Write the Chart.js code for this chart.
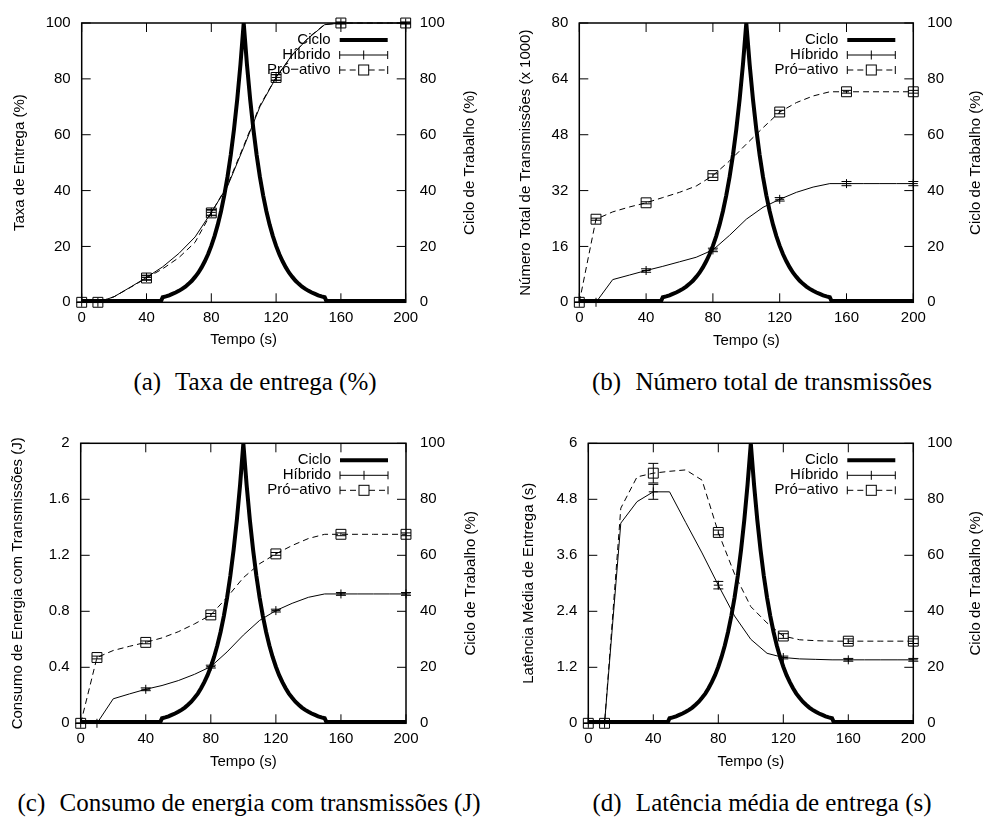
<!DOCTYPE html>
<html>
<head>
<meta charset="utf-8">
<script src="https://cdn.jsdelivr.net/npm/chart.js@4.4.1/dist/chart.umd.min.js"></script>
<style>
  body { margin: 0; background: #fff; width: 984px; height: 817px; position: relative; overflow: hidden; }
  canvas { position: absolute; }
  .legenda { position: absolute; width: 500px; font-family: 'Liberation Serif', 'Times New Roman', serif;
             font-size: 25px; line-height: 30px; text-align: center; color: #000; white-space: nowrap; }
  .legenda span { margin-right: 8px; }
</style>
</head>
<body>
<canvas id="grafA" width="490" height="360" style="left:0px;top:0px"></canvas>
<canvas id="grafB" width="494" height="360" style="left:490px;top:0px"></canvas>
<canvas id="grafC" width="490" height="360" style="left:0px;top:420px"></canvas>
<canvas id="grafD" width="494" height="360" style="left:490px;top:420px"></canvas>
<div class="legenda" style="left:5px;top:367px"><span>(a)</span> Taxa de entrega (%)</div>
<div class="legenda" style="left:512px;top:367px"><span>(b)</span> Número total de transmissões</div>
<div class="legenda" style="left:-1px;top:788px"><span>(c)</span> Consumo de energia com transmissões (J)</div>
<div class="legenda" style="left:512px;top:788px"><span>(d)</span> Latência média de entrega (s)</div>
<script>
// tempo (s) de cada ponto das curvas e pontos com marcador
const tempo = [0, 10, 20, 30, 40, 50, 60, 70, 80, 90, 100, 110, 120, 130, 140, 150, 160, 170, 180, 190, 200];
const marcas = [0, 10, 40, 80, 120, 160, 200];

// ciclo de trabalho (%) - eixo da direita
const cicloTempo = [0, 49, 50, 52, 54, 56, 58, 60, 62, 64, 66, 68, 70, 72, 74, 76, 78, 80, 82, 84, 86, 88, 90, 92, 94, 96, 98, 100,
  102, 104, 106, 108, 110, 112, 114, 116, 118, 120, 122, 124, 126, 128, 130, 132, 134, 136, 138, 140, 142, 144, 146, 148, 150, 151, 200];
const cicloValor = [0.5, 0.5, 1.8, 2.1, 2.5, 3.0, 3.5, 4.1, 4.8, 5.6, 6.6, 7.7, 9.1, 10.6, 12.5, 14.7, 17.2, 20.2, 23.7, 27.8, 32.6, 38.3, 44.9, 52.7, 61.9, 72.6, 85.2, 100,
  85.2, 72.6, 61.9, 52.7, 44.9, 38.3, 32.6, 27.8, 23.7, 20.2, 17.2, 14.7, 12.5, 10.6, 9.1, 7.7, 6.6, 5.6, 4.8, 4.1, 3.5, 3.0, 2.5, 2.1, 1.8, 0.5, 0.5];

// (a) taxa de entrega (%)
const taxaHibrido  = [0, 0, 2, 5.4, 8.9, 12.7, 17.5, 23.4, 32.2, 41.5, 55.5, 70, 80.5, 88.7, 94.6, 99.4, 100, 100, 100, 100, 100];
const taxaProativo = [0, 0, 2, 5.3, 8.7, 12, 16, 21.5, 32, 42, 56, 70.5, 80.5, 88.5, 94.8, 99.5, 100, 100, 100, 100, 100];
const taxaErroHibrido  = [0, 0, 0.8, 1, 1, 0.3, 0.3];
const taxaErroProativo = [0, 0, 0.8, 1, 1, 0.3, 0.3];

// (b) numero total de transmissoes (x 1000)
const transHibrido  = [0, 0, 6.5, 7.8, 9.1, 10.3, 11.6, 12.9, 15, 19.2, 23.8, 27.2, 29.5, 31.5, 33, 34, 34, 34, 34, 34, 34];
const transProativo = [0, 23.8, 25.9, 27.3, 28.5, 30, 31.5, 33.3, 36.3, 40.5, 45.3, 50, 54.5, 57.2, 59.1, 60.3, 60.3, 60.3, 60.3, 60.3, 60.3];
const transErroHibrido  = [0, 0, 0.5, 0.5, 0.5, 0.6, 0.6];
const transErroProativo = [0, 0.3, 0.3, 0.5, 0.5, 0.4, 0.4];

// (c) consumo de energia com transmissoes (J)
const energiaHibrido  = [0, 0, 0.175, 0.21, 0.243, 0.27, 0.305, 0.35, 0.405, 0.51, 0.63, 0.735, 0.805, 0.857, 0.9, 0.924, 0.924, 0.924, 0.924, 0.924, 0.924];
const energiaProativo = [0, 0.47, 0.52, 0.55, 0.578, 0.61, 0.654, 0.71, 0.774, 0.9, 1.04, 1.14, 1.21, 1.27, 1.32, 1.35, 1.35, 1.35, 1.35, 1.35, 1.35];
const energiaErroHibrido  = [0, 0, 0.01, 0.01, 0.01, 0.01, 0.01];
const energiaErroProativo = [0, 0.01, 0.01, 0.01, 0.01, 0.01, 0.01];

// (d) latencia media de entrega (s)
const latHibrido  = [0, 0, 4.29, 4.75, 4.96, 4.96, 4.3, 3.65, 2.96, 2.3, 1.8, 1.5, 1.41, 1.38, 1.37, 1.36, 1.36, 1.36, 1.36, 1.36, 1.36];
const latProativo = [0, 0, 4.61, 5.28, 5.36, 5.4, 5.43, 5.21, 4.09, 3.2, 2.5, 2.15, 1.87, 1.79, 1.77, 1.76, 1.76, 1.76, 1.76, 1.76, 1.76];
const latErroHibrido  = [0, 0, 0.16, 0.08, 0.03, 0.03, 0.03];
const latErroProativo = [0, 0, 0.21, 0.05, 0.05, 0.05, 0.05];

const fonte = "'Liberation Sans', Arial, Helvetica, sans-serif";
Chart.defaults.font.family = fonte;
Chart.defaults.font.size = 15;
Chart.defaults.color = '#000';

function pontos(valores) {
    return tempo.map((t, i) => ({ x: t, y: valores[i] }));
}
function raioMarca(r) {
    return ctx => marcas.includes(tempo[ctx.dataIndex]) ? r : 0;
}

// moldura estilo gnuplot: caixa, marcas para dentro, barras de erro, legenda e titulo da direita
const moldura = {
    id: 'moldura',
    beforeDatasetsDraw(chart) {
        const { ctx, chartArea: a, scales } = chart;
        ctx.save();
        ctx.strokeStyle = '#000';
        ctx.lineWidth = 1.5;
        ctx.strokeRect(a.left, a.top, a.right - a.left, a.bottom - a.top);
        ctx.lineWidth = 1;
        ctx.beginPath();
        scales.x.ticks.forEach(t => {
            const px = scales.x.getPixelForValue(t.value);
            ctx.moveTo(px, a.bottom); ctx.lineTo(px, a.bottom - 9);
            ctx.moveTo(px, a.top); ctx.lineTo(px, a.top + 9);
        });
        scales.y.ticks.forEach(t => {
            const py = scales.y.getPixelForValue(t.value);
            ctx.moveTo(a.left, py); ctx.lineTo(a.left + 9, py);
        });
        scales.y2.ticks.forEach(t => {
            const py = scales.y2.getPixelForValue(t.value);
            ctx.moveTo(a.right, py); ctx.lineTo(a.right - 9, py);
        });
        ctx.stroke();
        ctx.restore();
    },
    afterDatasetsDraw(chart, args, opts) {
        const { ctx, chartArea: a, scales } = chart;
        const ds = chart.data.datasets;
        ctx.save();
        ctx.strokeStyle = '#000';
        ctx.fillStyle = '#000';
        ctx.lineWidth = 1;

        // barras de erro
        ds.forEach(d => {
            if (!d.erro) return;
            ctx.beginPath();
            marcas.forEach((t, k) => {
                const v = d.data[tempo.indexOf(t)].y;
                const px = scales.x.getPixelForValue(t);
                const p1 = scales.y.getPixelForValue(v - d.erro[k]);
                const p2 = scales.y.getPixelForValue(v + d.erro[k]);
                ctx.moveTo(px, p1); ctx.lineTo(px, p2);
                ctx.moveTo(px - 5, p1); ctx.lineTo(px + 5, p1);
                ctx.moveTo(px - 5, p2); ctx.lineTo(px + 5, p2);
            });
            ctx.stroke();
        });

        // legenda
        const xt = a.right - 75, l1 = a.right - 66, l2 = a.right - 18, m = (l1 + l2) / 2;
        const linhas = [a.top + 17, a.top + 32, a.top + 47];
        ctx.font = '15px ' + fonte;
        ctx.textAlign = 'right';
        ctx.textBaseline = 'middle';
        ds.forEach((d, i) => ctx.fillText(d.label, xt, linhas[i]));

        ctx.lineWidth = 4;
        ctx.beginPath();
        ctx.moveTo(l1, linhas[0]); ctx.lineTo(l2, linhas[0]);
        ctx.stroke();

        ctx.lineWidth = 1;
        let y = linhas[1];
        ctx.beginPath();
        ctx.moveTo(l1, y); ctx.lineTo(l2, y);
        ctx.moveTo(l1, y - 4); ctx.lineTo(l1, y + 4);
        ctx.moveTo(l2, y - 4); ctx.lineTo(l2, y + 4);
        ctx.moveTo(m, y - 4.5); ctx.lineTo(m, y + 4.5);
        ctx.stroke();

        y = linhas[2];
        ctx.beginPath();
        ctx.moveTo(l1, y - 4); ctx.lineTo(l1, y + 4);
        ctx.moveTo(l2, y - 4); ctx.lineTo(l2, y + 4);
        ctx.stroke();
        ctx.setLineDash([6, 4]);
        ctx.beginPath();
        ctx.moveTo(l1, y); ctx.lineTo(m - 5, y);
        ctx.moveTo(m + 5, y); ctx.lineTo(l2, y);
        ctx.stroke();
        ctx.setLineDash([]);
        ctx.strokeRect(m - 5, y - 5, 10, 10);

        // titulo do eixo da direita, lido de baixo para cima
        ctx.translate(opts.xTitulo, (a.top + a.bottom) / 2);
        ctx.rotate(-Math.PI / 2);
        ctx.textAlign = 'center';
        ctx.fillText('Ciclo de Trabalho (%)', 0, 0);
        ctx.restore();
    }
};

function rotulo(v) {
    return String(Math.round(v * 100) / 100);
}

function criarGrafico(id, cfg) {
    return new Chart(document.getElementById(id), {
        type: 'line',
        data: {
            datasets: [
                {
                    label: 'Ciclo',
                    data: cicloTempo.map((t, i) => ({ x: t, y: cicloValor[i] })),
                    yAxisID: 'y2', borderColor: '#000', borderWidth: 4,
                    pointRadius: 0, borderJoinStyle: 'miter'
                },
                {
                    label: 'Híbrido',
                    data: pontos(cfg.hibrido), erro: cfg.erroHibrido,
                    yAxisID: 'y', borderColor: '#000', borderWidth: 1,
                    pointStyle: 'cross', pointRadius: raioMarca(4.5),
                    pointBorderColor: '#000', pointBorderWidth: 1, clip: false
                },
                {
                    label: 'Pró−ativo',
                    data: pontos(cfg.proativo), erro: cfg.erroProativo,
                    yAxisID: 'y', borderColor: '#000', borderWidth: 1, borderDash: [6, 4],
                    pointStyle: 'rect', pointRadius: raioMarca(7),
                    pointBackgroundColor: 'rgba(0,0,0,0)', pointBorderColor: '#000',
                    pointBorderWidth: 1, clip: false
                }
            ]
        },
        options: {
            responsive: false,
            animation: false,
            events: [],
            layout: { padding: { top: cfg.topo, left: 0, right: 0, bottom: 0 } },
            plugins: {
                legend: { display: false },
                tooltip: { enabled: false },
                moldura: { xTitulo: cfg.xTitulo }
            },
            scales: {
                x: {
                    type: 'linear', min: 0, max: 200,
                    ticks: { stepSize: 40, padding: 7, maxRotation: 0, callback: rotulo },
                    grid: { display: false, drawTicks: false },
                    border: { display: false },
                    title: { display: true, text: 'Tempo (s)', padding: { top: 0, bottom: cfg.padX } },
                    afterFit: s => { s.height = cfg.altX; }
                },
                y: {
                    position: 'left', min: 0, max: cfg.maxY,
                    ticks: { stepSize: cfg.passoY, padding: 11, callback: rotulo },
                    grid: { display: false, drawTicks: false },
                    border: { display: false },
                    title: { display: true, text: cfg.tituloY, padding: { top: cfg.padY, bottom: 0 } },
                    afterFit: s => { s.width = cfg.largEsq; }
                },
                y2: {
                    position: 'right', min: 0, max: 100,
                    ticks: { stepSize: 20, padding: 14, callback: rotulo },
                    grid: { display: false, drawTicks: false },
                    border: { display: false },
                    afterFit: s => { s.width = cfg.largDir; }
                }
            }
        },
        plugins: [moldura]
    });
}

criarGrafico('grafA', {
    hibrido: taxaHibrido, proativo: taxaProativo,
    erroHibrido: taxaErroHibrido, erroProativo: taxaErroProativo,
    maxY: 100, passoY: 20, tituloY: 'Taxa de Entrega (%)',
    topo: 21.7, altX: 57.7, largEsq: 81.7, largDir: 84.3, padX: 11, padY: 11, xTitulo: 470
});
criarGrafico('grafB', {
    hibrido: transHibrido, proativo: transProativo,
    erroHibrido: transErroHibrido, erroProativo: transErroProativo,
    maxY: 80, passoY: 16, tituloY: 'Número Total de Transmissões (x 1000)',
    topo: 21.7, altX: 57.7, largEsq: 89.3, largDir: 70.7, padX: 10.3, padY: 27, xTitulo: 486
});
criarGrafico('grafC', {
    hibrido: energiaHibrido, proativo: energiaProativo,
    erroHibrido: energiaErroHibrido, erroProativo: energiaErroProativo,
    maxY: 2, passoY: 0.4, tituloY: 'Consumo de Energia com Transmissões (J)',
    topo: 23.3, altX: 56.7, largEsq: 80.7, largDir: 84, padX: 9.3, padY: 9.3, xTitulo: 470.7
});
criarGrafico('grafD', {
    hibrido: latHibrido, proativo: latProativo,
    erroHibrido: latErroHibrido, erroProativo: latErroProativo,
    maxY: 6, passoY: 1.2, tituloY: 'Latência Média de Entrega (s)',
    topo: 23.3, altX: 56.7, largEsq: 98.3, largDir: 70.7, padX: 8.7, padY: 30.3, xTitulo: 486
});
</script>
</body>
</html>
